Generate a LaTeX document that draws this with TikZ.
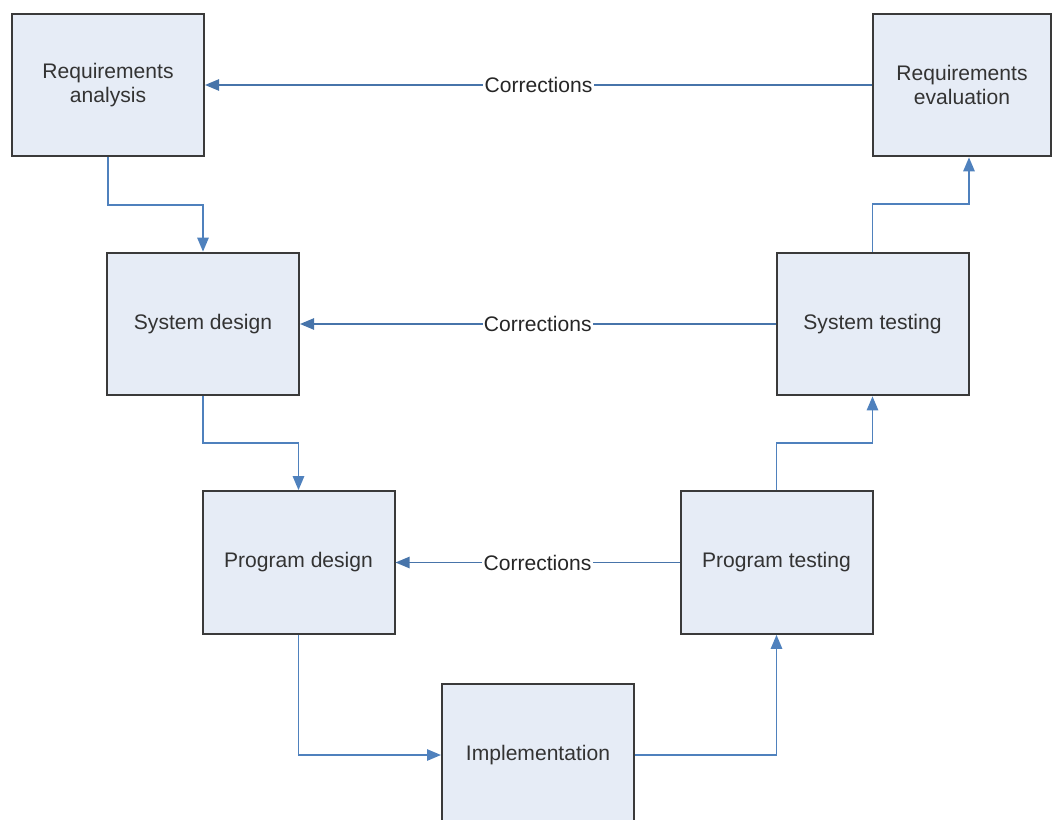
\documentclass[tikz,border=0pt]{standalone}
\usepackage{fontspec}
\setmainfont{Liberation Sans}
\usepackage{tikz}
\usetikzlibrary{arrows.meta,calc}
\definecolor{boxfill}{HTML}{E6ECF6}
\definecolor{boxline}{HTML}{3A3A3A}
\definecolor{flowblue}{HTML}{4F81BD}

\begin{document}
\begin{tikzpicture}[x=0.75pt, y=-0.75pt,
        stage/.style={draw=boxline, fill=boxfill, line width=1.5pt, minimum width=144pt, minimum height=107pt, align=center, text=black!80, font=\fontsize{15.8}{18}\selectfont},
        flow/.style={draw=flowblue, line width=1.3pt, -{Triangle[length=10.5pt,width=8.5pt]}},
        back/.style={draw=flowblue!90!black, line width=1.1pt, -{Triangle[length=10.5pt,width=8.5pt]}},
        corr/.style={fill=white, inner sep=1pt, text=black!85, font=\fontsize{15.8}{18}\selectfont}]
        \useasboundingbox (0,0) rectangle (1053,820);
        \clip (0,0) rectangle (1053,820);

        % Nodes for the boxes
        \node[stage] (ra) at (108,85) {Requirements\\analysis};
        \node[stage] (sd) at (203,324) {System design};
        \node[stage] (pd) at (298.5,562.5) {Program design};
        \node[stage] (impl) at (538,755) {Implementation};
        \node[stage] (pt) at (776.5,562.5) {Program testing};
        \node[stage] (st) at (872.5,324) {System testing};
        \node[stage, minimum width=133.5pt] (re) at (962,85) {Requirements\\evaluation};
        \coordinate (reIn) at ($(re.south)+(7,0)$);

        % Down the left side
        \draw[flow] (ra.south) -- ++(0,48) -| (sd.north);
        \draw[flow] (sd.south) -- ++(0,47) -| (pd.north);
        \draw[flow] (pd.south) |- (impl.west);

        % Up the right side
        \draw[flow] (impl.east) -| (pt.south);
        \draw[flow] (pt.north) -- ++(0,-47) -| (st.south);
        \draw[flow] (st.north) -- ++(0,-48) -| (reIn);

        % Corrections going back
        \draw[back] (re.west) -- node[corr] {Corrections} (ra.east);
        \draw[back] (st.west) -- node[corr] {Corrections} (sd.east);
        \draw[back] (pt.west) -- node[corr] {Corrections} (pd.east);
\end{tikzpicture}
\end{document}
